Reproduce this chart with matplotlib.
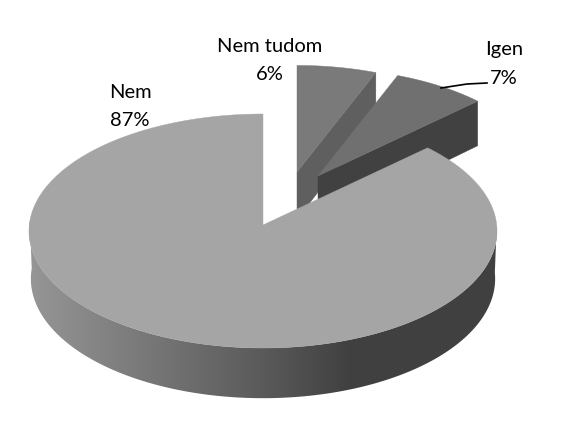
import numpy as np
import matplotlib
matplotlib.use('Agg')
import matplotlib.pyplot as plt
from matplotlib.patches import Polygon
from matplotlib.colors import LinearSegmentedColormap

plt.rcParams['font.family'] = ['Lato', 'DejaVu Sans']

# data
labels = ['Nem tudom', 'Igen', 'Nem']
values = [6, 7, 87]

# pie look, in pixels of the 564x423 picture
RX, RY, PERSP = 233.7, 116.7, 0.0513
DEPTH = 47.6
APEX = [(297, 172), (318, 176), (263, 225)]
SCALE = [0.96, 0.97, 1.0]
TOP_COL = ['#7a7a7a', '#707070', '#a5a5a5']
CUT_COL = ['#5f5f5f', '#414141', '#a5a5a5']
TEXT_POS = [(270, 47, 75), (504, 50, 78), (130, 93, 121)]


def project(deg, apex, scale=1.0, depth=0.0, shrink=1.0):
    # slightly perspective ellipse, clockwise from 12 o'clock
    t = np.radians(deg)
    u, v = np.sin(t), -np.cos(t)
    s = 1 / (1 - PERSP * v)
    x = apex[0] + RX * scale * shrink * u * s
    y = apex[1] + RY * scale * v * s + depth * s
    return np.column_stack([x, y])


fig = plt.figure(figsize=(5.64, 4.23), dpi=100)
ax = fig.add_axes([0, 0, 1, 1])
ax.set_xlim(0, 564)
ax.set_ylim(423, 0)
ax.axis('off')

edges = np.concatenate([[0], np.cumsum(values)]) / sum(values) * 360

# outer wall of the big slice, shaded left to right
front = np.linspace(90, 272, 200)
upper = project(front, APEX[2])
lower = project(front, APEX[2], depth=DEPTH, shrink=0.992)
wall = Polygon(np.vstack([upper, lower[::-1]]), closed=True, fc='none', ec='none')
ax.add_patch(wall)
cmap = LinearSegmentedColormap.from_list('wall', [(0, '#969696'), (0.5, '#5a5a5a'), (0.68, '#414141'), (1, '#404040')])
img = ax.imshow(np.linspace(0, 1, 256)[None, :], cmap=cmap, extent=(29, 497, 423, 0), aspect='auto', zorder=1)
img.set_clip_path(wall)
ax.set_xlim(0, 564)
ax.set_ylim(423, 0)

# exploded slices first, then the big one over them
for i in range(3):
    apex, sc = APEX[i], SCALE[i]
    a0, a1 = edges[i], edges[i + 1]
    if i < 2:
        rim = project(np.array([a1]), apex, sc)[0]
        low_rim = project(np.array([a1]), apex, sc, depth=DEPTH * 0.97)[0]
        cut = [apex, rim, low_rim, (apex[0], apex[1] + DEPTH)]
        ax.add_patch(Polygon(cut, closed=True, fc=CUT_COL[i], ec=CUT_COL[i], lw=0.3, zorder=2 + i))
    arc = project(np.linspace(a0, a1, 200), apex, sc)
    ax.add_patch(Polygon(np.vstack([[apex], arc]), closed=True, fc=TOP_COL[i], ec=TOP_COL[i], lw=0.3, zorder=2 + i))

# leader line for Igen
ax.plot([441, 467, 487], [88, 84, 83], color='black', lw=1.2, zorder=5)

for name, val, (x, y1, y2) in zip(labels, values, TEXT_POS):
    ax.text(x, y1, name, ha='center', va='center', fontsize=14.5, color='black', zorder=6)
    ax.text(x, y2, f'{val}%', ha='center', va='center', fontsize=14.5, color='black', zorder=6)

fig.savefig('out.png', dpi=100)
